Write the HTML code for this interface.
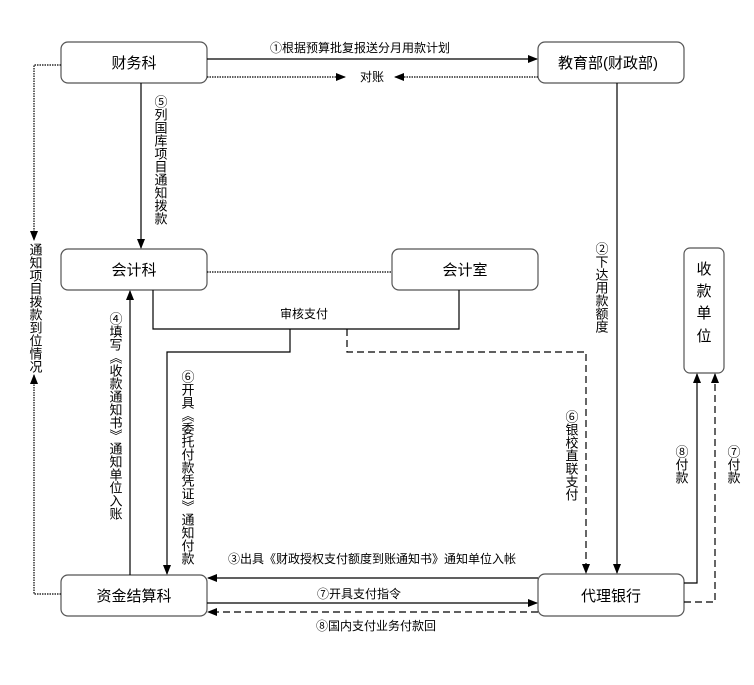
<!DOCTYPE html>
<html><head><meta charset="utf-8"><style>
body{margin:0;background:#fff}
svg text{font-family:"Liberation Sans","Noto Sans CJK SC",sans-serif;fill:#000}
</style></head><body>
<svg width="754" height="680" xmlns="http://www.w3.org/2000/svg">
<defs>
<marker id="a" markerWidth="10" markerHeight="8" refX="9" refY="4" orient="auto" markerUnits="userSpaceOnUse"><path d="M0,0 L10,4 L0,8z" fill="#000"/></marker>
</defs>
<g fill="#fff" stroke="#555" stroke-width="1.2">
<rect x="61" y="42" width="146" height="41" rx="7"/>
<rect x="538" y="42" width="146" height="41" rx="7"/>
<rect x="61" y="249" width="146" height="41" rx="7"/>
<rect x="392" y="249" width="146" height="41" rx="7"/>
<rect x="684" y="248" width="40" height="125" rx="6"/>
<rect x="61" y="575" width="146" height="41" rx="7"/>
<rect x="538" y="574" width="146" height="42" rx="7"/>
</g>
<g font-size="15" text-anchor="middle">
<text x="134" y="68">财务科</text>
<text x="608" y="68">教育部(财政部)</text>
<text x="134" y="275">会计科</text>
<text x="465" y="275">会计室</text>
<text x="134" y="601">资金结算科</text>
<text x="611" y="601">代理银行</text>
<text x="704" y="274">收</text><text x="704" y="296">款</text><text x="704" y="318">单</text><text x="704" y="341">位</text>
</g>
<g fill="none" stroke="#000" stroke-width="1.2">
<path d="M207 59H537" marker-end="url(#a)"/>
<path d="M207 77H345" stroke-dasharray="1.5 1" marker-end="url(#a)"/>
<path d="M538 77H395" stroke-dasharray="1.5 1" marker-end="url(#a)"/>
<path d="M61 65H34V240" stroke-dasharray="1.5 1" marker-end="url(#a)"/>
<path d="M61 594H34V375" stroke-dasharray="1.5 1" marker-end="url(#a)"/>
<path d="M141 83V248" marker-end="url(#a)"/>
<path d="M207 272H392" stroke-dasharray="1.5 1"/>
<path d="M153 290V329H459V290"/>
<path d="M290 329V352H167V574" marker-end="url(#a)"/>
<path d="M347 329V352H586V573" stroke-dasharray="7 4" marker-end="url(#a)"/>
<path d="M130 575V291" marker-end="url(#a)"/>
<path d="M617 83V573" marker-end="url(#a)"/>
<path d="M684 583H697V374" marker-end="url(#a)"/>
<path d="M684 602H715V374" stroke-dasharray="7 4" marker-end="url(#a)"/>
<path d="M538 578H208" marker-end="url(#a)"/>
<path d="M207 603H537" marker-end="url(#a)"/>
<path d="M538 612H208" stroke-dasharray="7 4" marker-end="url(#a)"/>
</g>
<g font-size="12">
<text x="270" y="52">①根据预算批复报送分月用款计划</text>
<text x="360" y="81">对账</text>
<text x="280" y="318">审核支付</text>
<text x="228" y="563">③出具《财政授权支付额度到账通知书》通知单位入帐</text>
<text x="317" y="598">⑦开具支付指令</text>
<text x="316" y="630">⑧国内支付业务付款回</text>
</g>
<g font-size="13" text-anchor="start">
<text x="160" y="95" style="writing-mode:vertical-rl">⑤列国库项目通知拨款</text>
<text x="35" y="243" style="writing-mode:vertical-rl">通知项目拨款到位情况</text>
<text x="115" y="312" style="writing-mode:vertical-rl">④填写《收款通知书》通知单位入账</text>
<text x="187" y="370" style="writing-mode:vertical-rl">⑥开具《委托付款凭证》通知付款</text>
<text x="601" y="242" style="writing-mode:vertical-rl">②下达用款额度</text>
<text x="571" y="410" style="writing-mode:vertical-rl">⑥银校直联支付</text>
<text x="681" y="445" style="writing-mode:vertical-rl">⑧付款</text>
<text x="733" y="445" style="writing-mode:vertical-rl">⑦付款</text>
</g>
</svg>
</body></html>
